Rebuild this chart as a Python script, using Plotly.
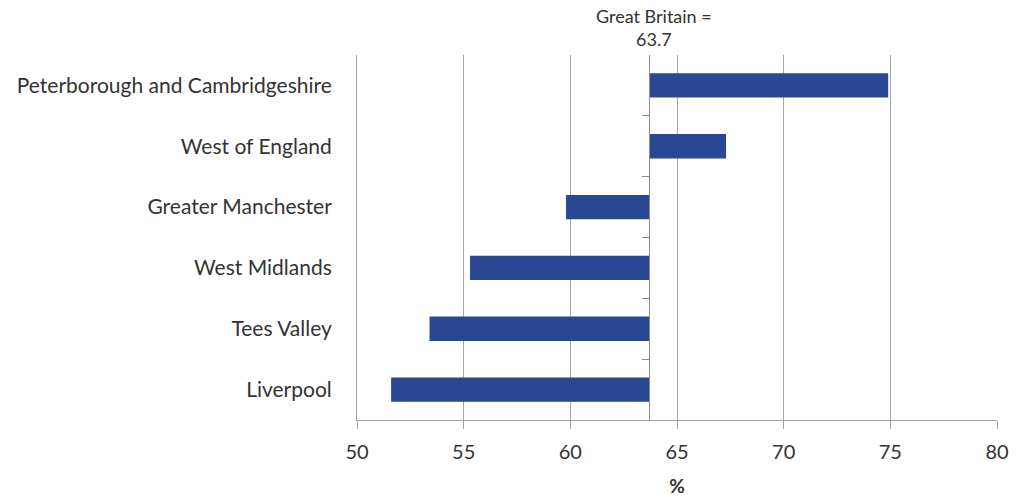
import plotly.graph_objects as go

# Employment rate by area, shown as difference from the Great Britain figure
areas = ["Peterborough and Cambridgeshire", "West of England", "Greater Manchester",
         "West Midlands", "Tees Valley", "Liverpool"]
rates = [74.9, 67.3, 59.8, 55.3, 53.4, 51.6]
gb_rate = 63.7
x_ticks = [50, 55, 60, 65, 70, 75, 80]

FONT = "Lato"
TXT = "#333333"
GRID = "#a6a6a6"

fig = go.Figure()
fig.add_trace(go.Bar(
    y=areas,
    x=[r - gb_rate for r in rates],
    base=gb_rate,
    orientation="h",
    marker=dict(color="#2a4793", line=dict(width=0)),
    width=0.4,
    showlegend=False,
))

# Invisible helper trace so the second y-axis (the GB reference line) is drawn
fig.add_trace(go.Scatter(x=[None], y=[None], yaxis="y2", showlegend=False))

n = len(areas)
fig.update_layout(
    width=1025, height=497,
    margin=dict(l=357, r=28, t=55, b=77, autoexpand=False),
    paper_bgcolor="white", plot_bgcolor="white",
    font=dict(family=FONT, size=18, color=TXT),
    xaxis=dict(
        range=[x_ticks[0], x_ticks[-1]],
        tickvals=x_ticks,
        automargin=False,
        showgrid=True, gridcolor=GRID, gridwidth=1,
        zeroline=False,
        showline=True, linecolor=GRID, linewidth=1,
        ticks="outside", ticklen=8, tickcolor=GRID,
        ticklabelstandoff=6,
        tickfont=dict(size=20, color=TXT),
        title=dict(text="<b>%</b>", font=dict(size=19, color=TXT), standoff=17),
    ),
    yaxis=dict(
        categoryorder="array", categoryarray=areas,
        range=[n - 0.5, -0.5],
        automargin=False,
        showgrid=False, zeroline=False,
        showline=True, linecolor=GRID, linewidth=1,
        ticks="", ticklabelstandoff=20,
        tickfont=dict(size=21, color=TXT),
    ),
    yaxis2=dict(
        overlaying="y", anchor="free",
        position=(gb_rate - x_ticks[0]) / (x_ticks[-1] - x_ticks[0]),
        range=[n - 0.5, -0.5],
        tickvals=[i + 0.5 for i in range(n - 1)],
        showticklabels=False,
        showgrid=False, zeroline=False,
        showline=True, linecolor="#8c8c8c", linewidth=1,
        ticks="outside", ticklen=7, tickcolor="#8c8c8c",
    ),
    annotations=[dict(
        x=gb_rate, xref="x", y=1, yref="paper",
        text="Great Britain =<br>" + f"{gb_rate}",
        showarrow=False, xanchor="center", yanchor="bottom",
        xshift=5, yshift=3,
        font=dict(family=FONT, size=18, color=TXT),
        align="center",
    )],
)

fig.write_html("out.html")
